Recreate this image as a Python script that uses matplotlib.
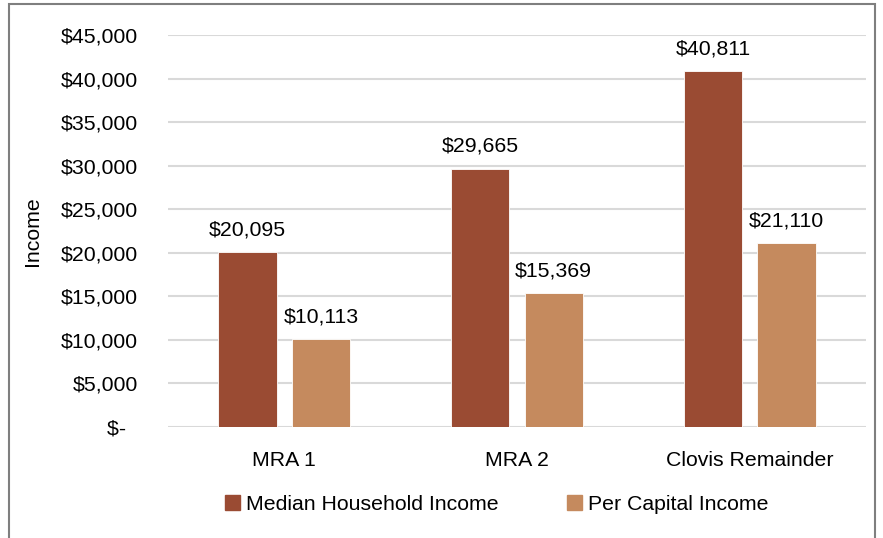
import numpy as np
import matplotlib.pyplot as plt
from matplotlib.patches import Rectangle, Patch
from matplotlib.ticker import FuncFormatter

plt.rcParams['font.family'] = ['Liberation Sans', 'DejaVu Sans']

# data
areas = ["MRA 1", "MRA 2", "Clovis Remainder"]
median_household = [20095, 29665, 40811]
per_capita = [10113, 15369, 21110]
series_names = ["Median Household Income", "Per Capital Income"]

dark = "#9A4B33"
light = "#C58A5E"
fs = 15.3

fig = plt.figure(figsize=(8.83, 5.38), dpi=100)
ax = fig.add_axes([168/883, 1 - 427/538, (866 - 168)/883, (427 - 35)/538])

x = np.arange(len(areas))
w = 0.25
off = 0.158
b1 = ax.bar(x - off, median_household, w, color=dark, edgecolor="white", linewidth=0.6, zorder=3)
b2 = ax.bar(x + off, per_capita, w, color=light, edgecolor="white", linewidth=0.6, zorder=3)

for bars, vals in [(b1, median_household), (b2, per_capita)]:
    for r, v in zip(bars, vals):
        ax.annotate(f"${v:,}", (r.get_x() + r.get_width() / 2, v),
                    xytext=(0, 12), textcoords="offset points",
                    ha="center", va="baseline", fontsize=fs)

ax.set_xlim(-0.5, 2.5)
ax.set_ylim(0, 45000)
ax.set_yticks(np.arange(0, 45001, 5000))


def money(v, pos):
    if v == 0:
        return "$-\u2007"
    return f"${v:,.0f}"


ax.yaxis.set_major_formatter(FuncFormatter(money))
ax.set_xticks(x)
ax.set_xticklabels(areas)
ax.tick_params(axis="both", length=0, labelsize=fs)
ax.tick_params(axis="y", pad=21.6)
ax.tick_params(axis="x", pad=17)
ax.grid(axis="y", color="#D9D9D9", linewidth=1.5, zorder=0)
ax.set_axisbelow(True)
for s in ax.spines.values():
    s.set_visible(False)

fig.text(33/883, 1 - 231/538, "Income", rotation=90, ha="center", va="center", fontsize=fs)

handles = [Patch(color=dark), Patch(color=light)]
fig.legend(handles, series_names, loc="center", bbox_to_anchor=(497/883, 1 - 504/538),
           ncol=2, frameon=False, fontsize=fs, handlelength=0.7, handleheight=0.7,
           handletextpad=0.3, columnspacing=3.2)

# chart border
fig.patches.append(Rectangle((9/883, -0.1), (875 - 9)/883, 1.1 - 4/538,
                             transform=fig.transFigure, fill=False,
                             edgecolor="#7F7F7F", linewidth=1.5))

fig.savefig("out.png", dpi=100)
